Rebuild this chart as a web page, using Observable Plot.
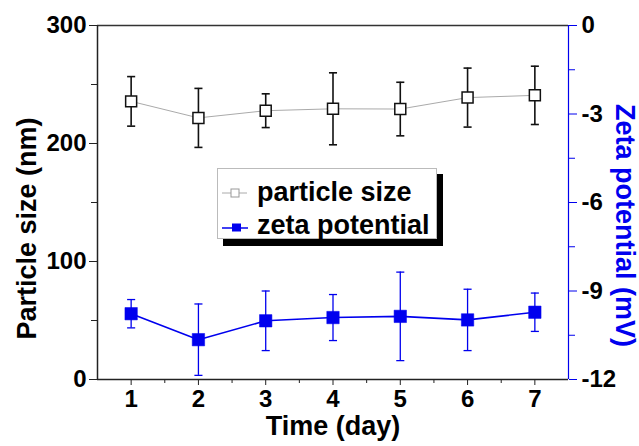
<!DOCTYPE html>
<html><head><meta charset="utf-8">
<script src="https://cdn.jsdelivr.net/npm/d3@7"></script>
<script src="https://cdn.jsdelivr.net/npm/@observablehq/plot@0.6"></script>
<style>
body{margin:0;background:#fff;font-family:"Liberation Sans",Arial,sans-serif;}
#wrap{position:relative;width:639px;height:446px;}
#legend{position:absolute;left:217px;top:168px;}
</style></head>
<body><div id="wrap"><div id="chart"></div>
<svg id="legend" width="230" height="82" font-family="Liberation Sans, Arial, sans-serif">
<rect x="6" y="6" width="220" height="72" fill="#000"/>
<rect x="0.5" y="0.5" width="219" height="70" fill="#fff" stroke="#bbb" stroke-width="1"/>
<line x1="5" y1="25" x2="30" y2="25" stroke="#aaa" stroke-width="1"/>
<rect x="14" y="21" width="8" height="8" fill="#fff" stroke="#999" stroke-width="1"/>
<line x1="5" y1="60" x2="31" y2="60" stroke="#0000ee" stroke-width="1.5"/>
<rect x="15" y="55.5" width="9" height="8" fill="#0000ee"/>
<text id="l1" x="40" y="33" font-size="27" font-weight="bold" fill="#000"></text>
<text id="l2" x="40" y="66" font-size="27" font-weight="bold" fill="#000"></text>
</svg>
</div>
<script>
const days = [1, 2, 3, 4, 5, 6, 7];
const sizeMean = [235.7, 221.7, 227.8, 229.4, 229.2, 238.9, 240.8];
const sizeErr = [21, 25, 14.3, 30.5, 22.7, 25, 24.7];
const zetaMean = [-9.77, -10.65, -10.01, -9.9, -9.86, -9.98, -9.72];
const zetaErr = [0.48, 1.21, 1.01, 0.78, 1.5, 1.04, 0.65];
const sizeTicks = [0, 100, 200, 300];
const zetaTicks = [-12, -9, -6, -3, 0];
const seriesNames = ["particle size", "zeta potential"];
const titles = {x: "Time (day)", y: "Particle size (nm)", y2: "Zeta potential (mV)"};

const sizeDomain = [0, 300];
const zetaDomain = [-12, 0];
const z2y = z => (z - zetaDomain[0]) / (zetaDomain[1] - zetaDomain[0]) * (sizeDomain[1] - sizeDomain[0]) + sizeDomain[0];

const blue = "#0000ee";
const sizeData = days.map((d, i) => ({day: d, v: sizeMean[i], lo: sizeMean[i] - sizeErr[i], hi: sizeMean[i] + sizeErr[i]}));
const zetaData = days.map((d, i) => ({day: d, v: z2y(zetaMean[i]), lo: z2y(zetaMean[i] - zetaErr[i]), hi: z2y(zetaMean[i] + zetaErr[i])}));
const capW = 0.06;
const minorX = days.slice(0, -1).map(d => d + 0.5);
const minorY = sizeTicks.slice(0, -1).map(d => d + 50);
const zetaMinor = zetaTicks.slice(0, -1).map(d => z2y(d + 1.5));
const fnt = {fontSize: 24, fontWeight: "bold"};
const tfnt = {fontSize: 27, fontWeight: "bold", textAnchor: "middle"};

document.getElementById("l1").textContent = seriesNames[0];
document.getElementById("l2").textContent = seriesNames[1];

const chart = Plot.plot({
  width: 639, height: 446,
  marginLeft: 97, marginRight: 71, marginTop: 25, marginBottom: 67,
  style: {fontFamily: "Liberation Sans, Arial, sans-serif", background: "#fff", overflow: "visible"},
  x: {domain: [0.5, 7.5]},
  y: {domain: sizeDomain},
  marks: [
    Plot.axisX({ticks: days, tickSize: 6, tickPadding: 4, label: null, stroke: "#222", fill: "#000", tickFormat: d => String(d), ...fnt}),
    Plot.axisX({ticks: minorX, tickSize: 4, text: null, label: null, stroke: "#222"}),
    Plot.axisY({ticks: sizeTicks, tickSize: 8, tickPadding: 3, label: null, stroke: "#222", fill: "#000", tickFormat: d => String(d), ...fnt}),
    Plot.axisY({ticks: minorY, tickSize: 6, text: null, label: null, stroke: "#222"}),
    Plot.axisY({anchor: "right", ticks: zetaTicks.map(z2y), tickSize: 8, text: null, label: null, stroke: blue}),
    Plot.axisY({anchor: "right", ticks: zetaMinor, tickSize: 6, text: null, label: null, stroke: blue}),
    Plot.axisY({anchor: "right", ticks: zetaTicks.map(z2y), tickSize: 0, tickPadding: 13, label: null, fill: "#000",
      tickFormat: (d, i) => String(zetaTicks[i]), ...fnt}),
    Plot.ruleY([sizeDomain[1]], {stroke: "#333", strokeWidth: 1.5}),
    Plot.ruleY([sizeDomain[0]], {stroke: "#222", strokeWidth: 1.5}),
    Plot.ruleX([0.5], {stroke: "#222", strokeWidth: 1.5}),
    Plot.ruleX([7.5], {stroke: blue, strokeWidth: 1.2}),
    // particle size
    Plot.line(sizeData, {x: "day", y: "v", stroke: "#aaa", strokeWidth: 1}),
    Plot.ruleX(sizeData, {x: "day", y1: "lo", y2: "hi", stroke: "#111", strokeWidth: 1.6}),
    Plot.link(sizeData, {x1: d => d.day - capW, x2: d => d.day + capW, y1: "lo", y2: "lo", stroke: "#111", strokeWidth: 1.6}),
    Plot.link(sizeData, {x1: d => d.day - capW, x2: d => d.day + capW, y1: "hi", y2: "hi", stroke: "#111", strokeWidth: 1.6}),
    Plot.dot(sizeData, {x: "day", y: "v", symbol: "square", r: 6.2, fill: "#fff", stroke: "#111", strokeWidth: 1.5}),
    // zeta potential
    Plot.line(zetaData, {x: "day", y: "v", stroke: blue, strokeWidth: 1.6}),
    Plot.ruleX(zetaData, {x: "day", y1: "lo", y2: "hi", stroke: blue, strokeWidth: 1.3}),
    Plot.link(zetaData, {x1: d => d.day - capW, x2: d => d.day + capW, y1: "lo", y2: "lo", stroke: blue, strokeWidth: 1.3}),
    Plot.link(zetaData, {x1: d => d.day - capW, x2: d => d.day + capW, y1: "hi", y2: "hi", stroke: blue, strokeWidth: 1.3}),
    Plot.dot(zetaData, {x: "day", y: "v", symbol: "square", r: 7, fill: blue, stroke: blue, strokeWidth: 0.5}),
    // titles
    Plot.text([titles.x], {frameAnchor: "bottom", dy: 55, fill: "#000", ...tfnt}),
    Plot.text([titles.y], {frameAnchor: "left", dx: -70, dy: 26, rotate: -90, fill: "#000", ...tfnt}),
    Plot.text([titles.y2], {frameAnchor: "right", dx: 56, dy: 23, rotate: 90, fill: blue, ...tfnt})
  ]
});
document.getElementById("chart").appendChild(chart);
</script>
</body></html>
